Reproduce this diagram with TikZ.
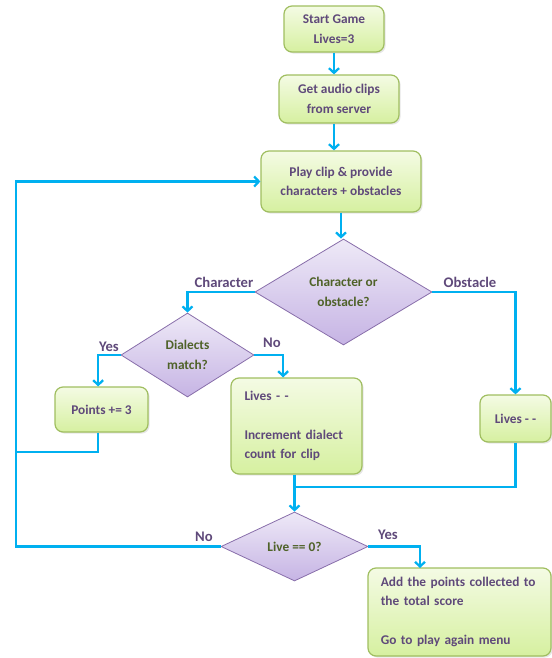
\documentclass[tikz,border=0pt]{standalone}
\usepackage{fontspec}
\setmainfont{Carlito}
\usetikzlibrary{arrows.meta,shapes.geometric,shadows}

\definecolor{boxline}{RGB}{160,190,96}
\definecolor{boxtop}{RGB}{244,251,228}
\definecolor{boxbottom}{RGB}{214,240,160}
\definecolor{diatop}{RGB}{238,233,247}
\definecolor{diabottom}{RGB}{198,180,228}
\definecolor{dialine}{RGB}{136,110,170}
\definecolor{txtpurple}{RGB}{95,73,122}
\definecolor{txtolive}{RGB}{79,98,40}
\definecolor{flowblue}{RGB}{0,176,240}

\tikzset{every picture/.style={line width=0.75pt}}
\tikzset{
  stepbox/.style={draw=boxline, line width=0.9pt, rounded corners=6pt,
    top color=boxtop, bottom color=boxbottom, inner sep=0pt,
    text=txtpurple, font=\fontsize{10}{14.6}\selectfont\bfseries, align=center,
    drop shadow={opacity=0.2, shadow xshift=1.2pt, shadow yshift=-1.2pt}},
  decision/.style={diamond, draw=dialine, line width=0.6pt,
    top color=diatop, bottom color=diabottom, inner sep=0pt,
    text=txtolive, font=\fontsize{10}{14.6}\selectfont\bfseries, align=center},
  flowline/.style={draw=flowblue, line width=1.7pt},
  flow/.style={flowline, -{Straight Barb[length=3.5pt,width=7.5pt]}},
  branchlabel/.style={text=txtpurple, font=\fontsize{11}{13}\selectfont\bfseries, inner sep=0.75pt}
}

\begin{document}
\begin{tikzpicture}[x=0.75pt,y=0.75pt,yscale=-1,xscale=1]
\useasboundingbox (0,0) rectangle (552,658);

%Shape: Rounded Rect
\node [stepbox, minimum width=75pt, minimum height=34.5pt] (start) at (334,29) {Start Game\\Lives=3};
%Shape: Rounded Rect
\node [stepbox, minimum width=90pt, minimum height=36pt] (audio) at (339,99) {Get audio clips\\from server};
%Shape: Rounded Rect
\node [stepbox, minimum width=120pt, minimum height=45.75pt] (play) at (341,181.5) {Play clip \& provide\\characters + obstacles};
%Shape: Diamond
\node [decision, minimum width=132.75pt, minimum height=79.5pt] (d1) at (343.5,292) {Character or\\obstacle?};
%Shape: Diamond
\node [decision, minimum width=99.75pt, minimum height=63pt] (d2) at (187.5,355) {Dialects\\match?};
%Shape: Rounded Rect
\node [stepbox, minimum width=69.75pt, minimum height=33.75pt] (points) at (101.5,409.5) {Points += 3};
%Shape: Rounded Rect
\node [stepbox, minimum width=98.25pt, minimum height=72pt, text width=78pt, align=left] (inc) at (296.5,426) {Lives - -\\[14.6pt]Increment dialect\\count for clip};
%Shape: Rounded Rect
\node [stepbox, minimum width=53.25pt, minimum height=35.25pt] (rlives) at (515.5,418.5) {Lives - -};
%Shape: Diamond
\node [decision, minimum width=110.25pt, minimum height=51.75pt] (d3) at (294.5,546.5) {Live == 0?};
%Shape: Rounded Rect
\node [stepbox, minimum width=137.25pt, minimum height=66pt, text width=118pt, align=left] (final) at (459.5,612) {Add the points collected to\\the total score\\[14.6pt]Go to play again menu};

% Text Node
\node [branchlabel] (lchar) at (224,282) {Character};
% Text Node
\node [branchlabel] (lobst) at (470,282) {Obstacle};
% Text Node
\node [branchlabel] (lyes) at (109,347) {Yes};
% Text Node
\node [branchlabel] (lno) at (272,343) {No};
% Text Node
\node [branchlabel] (lagain) at (204,537) {No};
% Text Node
\node [branchlabel] (lend) at (388,535) {Yes};

%Straight Lines
\coordinate (loop) at (16,452);
\coordinate (merge) at (294.5,487);
\coordinate (finalin) at (420,568);
\draw [flow] (start.south) -- (start.south |- audio.north);
\draw [flow] (start.south |- audio.south) -- (start.south |- play.north);
\draw [flow] (play.south) -- (play.south |- d1.north);
\draw [flow] (d1.west) -| (d2.north);
\draw [flow] (d1.east) -| (rlives.north);
\draw [flow] (d2.west) -| ([xshift=-2.5pt]points.north);
\draw [flow] (d2.east) -| ([xshift=-10pt]inc.north);
\draw [flowline] ([xshift=-2.5pt]points.south) |- (loop);
\draw [flowline] (rlives.south) |- (merge);
\draw [flow] (inc.south -| d3.north) -- (d3.north);
\draw [flow] (d3.west) -| (loop) |- (play.west);
\draw [flow] (d3.east) -| (finalin);

\end{tikzpicture}
\end{document}
